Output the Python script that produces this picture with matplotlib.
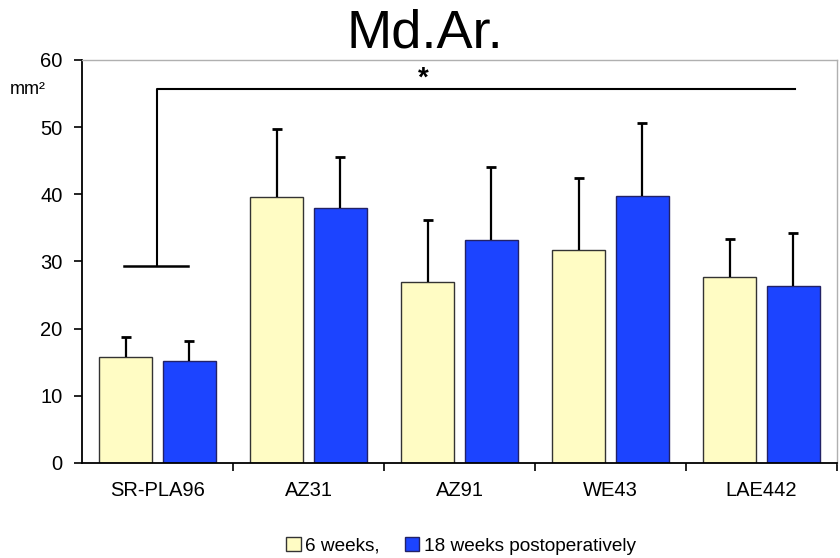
import numpy as np
import matplotlib
matplotlib.use("Agg")
import matplotlib.pyplot as plt

plt.rcParams["font.family"] = ["Liberation Sans", "DejaVu Sans"]

# Md.Ar. per implant material, mean + SD
groups = ["SR-PLA96", "AZ31", "AZ91", "WE43", "LAE442"]
weeks6 = [15.8, 39.6, 26.9, 31.7, 27.7]
weeks6_sd = [3.0, 10.1, 9.3, 10.8, 5.6]
weeks18 = [15.2, 38.0, 33.2, 39.7, 26.3]
weeks18_sd = [3.0, 7.5, 10.8, 10.9, 7.9]

YELLOW = "#FFFCC4"
BLUE = "#1C44FF"

fig = plt.figure(figsize=(8.4, 5.58), dpi=100)
ax = fig.add_axes([0.0976, 0.1703, 0.8988, 0.7222])

x = np.arange(len(groups))
w = 0.353
off = 0.21
for xs, vals, sds, col, edge, lab in [
    (x - off, weeks6, weeks6_sd, YELLOW, "#333333", "6 weeks,"),
    (x + off, weeks18, weeks18_sd, BLUE, "#222266", "18 weeks postoperatively"),
]:
    ax.bar(xs, vals, w, color=col, edgecolor=edge, linewidth=1.0, label=lab, zorder=2)
    vals, sds = np.array(vals), np.array(sds)
    # upper error bars only, cap on top end
    ax.vlines(xs, vals, vals + sds, color="black", lw=1.6, zorder=3)
    ax.plot(xs, vals + sds, ls="none", marker="_", ms=7, mew=2, color="black", zorder=3)

# significance bracket
ax.plot([-0.22, 0.2], [29.3, 29.3], color="black", lw=1.8)
ax.plot([0, 0, 4.22], [29.3, 55.7, 55.7], color="black", lw=1.5)
ax.text(1.76, 57.2, "*", ha="center", va="center", fontsize=20, fontweight="bold")

ax.set_xlim(-0.5, 4.455)
ax.set_ylim(0, 60)
ax.set_yticks(range(0, 61, 10))
ax.tick_params(axis="y", labelsize=14.5, length=6, width=1.2, direction="out", pad=8)
ax.set_xticks(x)
ax.set_xticklabels(groups)
ax.set_xticks(np.arange(len(groups)) + 0.5, minor=True)
ax.tick_params(axis="x", which="major", length=0, labelsize=14.5, pad=13)
ax.tick_params(axis="x", which="minor", length=6, width=1.2, direction="out")

for s in ["left", "bottom"]:
    ax.spines[s].set_linewidth(1.3)
    ax.spines[s].set_color("black")
for s in ["top", "right"]:
    ax.spines[s].set_linewidth(1.0)
    ax.spines[s].set_color("#b0b0b0")

fig.text(0.012, 0.839, "mm²", fontsize=13, ha="left", va="center")
fig.text(0.506, 0.94, "Md.Ar.", fontsize=39, ha="center", va="center")

fig.legend(loc="center", bbox_to_anchor=(0.549, 0.022), ncol=2, frameon=False,
           fontsize=13.7, handlelength=0.75, handleheight=0.75, handletextpad=0.25,
           columnspacing=1.3)

fig.savefig("out.png", dpi=100)
